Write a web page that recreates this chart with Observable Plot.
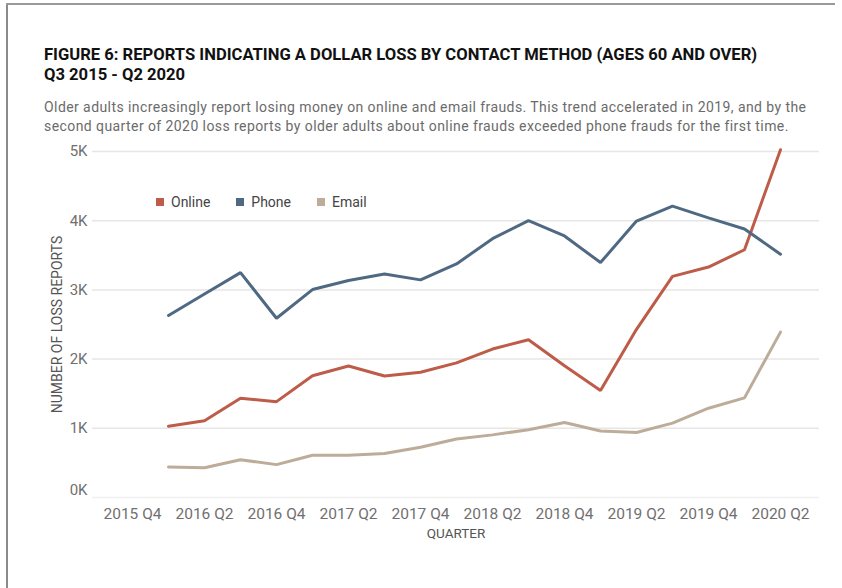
<!DOCTYPE html>
<html>
<head>
<meta charset="utf-8">
<script src="https://cdn.jsdelivr.net/npm/d3@7"></script>
<script src="https://cdn.jsdelivr.net/npm/@observablehq/plot@0.6"></script>
<style>
  html, body { margin: 0; padding: 0; background: #fff; }
  #page { position: relative; width: 842px; height: 588px; overflow: hidden; font-family: Roboto, sans-serif; }
  #bl { position: absolute; left: 6px; top: 3px; width: 2px; height: 590px; background: #8a8a8a; }
  #bt { position: absolute; left: 6px; top: 3px; width: 829px; height: 2px; background: #9a9a9a; }
  #title { position: absolute; left: 44px; top: 45px; font-family: "Liberation Sans Narrow", "Roboto", sans-serif; font-weight: 700; font-size: 16.6px; line-height: 20px; color: #111; white-space: nowrap; }
  #sub { position: absolute; left: 44px; top: 98px; font-family: Roboto, sans-serif; font-size: 14px; letter-spacing: 0.42px; line-height: 19px; color: #6b6b6b; white-space: nowrap; }
  #chart { position: absolute; left: 0; top: 140px; }
  #legend { position: absolute; left: 156px; top: 185px; }
  .lg-swatch { margin-right: 26px !important; font-size: 14px; color: #444; }
</style>
</head>
<body>
<div id="page">
  <div id="bl"></div>
  <div id="bt"></div>
  <div id="title">FIGURE 6: REPORTS INDICATING A DOLLAR LOSS BY CONTACT METHOD (AGES 60 AND OVER)<br>Q3 2015 - Q2 2020</div>
  <div id="sub">Older adults increasingly report losing money on online and email frauds. This trend accelerated in 2019, and by the<br>second quarter of 2020 loss reports by older adults about online frauds exceeded phone frauds for the first time.</div>
  <div id="chart"></div>
  <div id="legend"></div>
</div>
<script>
// x domain (quarters shown on the axis range)
const quarters = ["2015 Q3","2015 Q4","2016 Q1","2016 Q2","2016 Q3","2016 Q4","2017 Q1","2017 Q2","2017 Q3","2017 Q4",
  "2018 Q1","2018 Q2","2018 Q3","2018 Q4","2019 Q1","2019 Q2","2019 Q3","2019 Q4","2020 Q1","2020 Q2","2020 Q3"];
const xTicks = ["2015 Q4","2016 Q2","2016 Q4","2017 Q2","2017 Q4","2018 Q2","2018 Q4","2019 Q2","2019 Q4","2020 Q2"];
const dataQuarters = ["2016 Q1","2016 Q2","2016 Q3","2016 Q4","2017 Q1","2017 Q2","2017 Q3","2017 Q4",
  "2018 Q1","2018 Q2","2018 Q3","2018 Q4","2019 Q1","2019 Q2","2019 Q3","2019 Q4","2020 Q1","2020 Q2"];
const online = [1030,1110,1435,1385,1760,1900,1755,1810,1945,2145,2280,1905,1545,2430,3195,3330,3580,5025];
const phone  = [2630,2940,3250,2590,3005,3135,3230,3145,3375,3740,4000,3780,3395,3995,4210,4040,3880,3515];
const email  = [440,430,545,475,610,610,635,725,845,905,980,1085,960,940,1075,1290,1440,2390];
const yTicks = [0,1000,2000,3000,4000,5000];
const seriesNames = ["Online","Phone","Email"];
const seriesColors = ["#bd5c48","#4f6983","#bcac99"];

const seriesValues = [online, phone, email];
const rows = [];
seriesNames.forEach((s, i) => {
  dataQuarters.forEach((q, j) => rows.push({series: s, quarter: q, value: seriesValues[i][j]}));
});

const fmtK = d => d / 1000 + "K";
const chart = Plot.plot({
  width: 842,
  height: 400,
  marginLeft: 92,
  marginRight: 23,
  marginTop: 11,
  marginBottom: 43,
  style: {fontFamily: "Roboto, sans-serif", background: "transparent", overflow: "visible"},
  x: {type: "point", domain: quarters, padding: 0},
  y: {domain: [0, 5000]},
  color: {domain: seriesNames, range: seriesColors},
  marks: [
    Plot.ruleY(yTicks.filter(d => d > 0), {stroke: "#e6e6e6", strokeWidth: 1.5}),
    Plot.ruleY(yTicks.filter(d => d === 0), {stroke: "#f0f0f0", strokeWidth: 1.5}),
    Plot.axisX(xTicks, {tickSize: 0, tickPadding: 10, fontSize: 15.5, letterSpacing: 0.3, fill: "#707070", label: null}),
    Plot.axisY(yTicks.filter(d => d > 0), {tickSize: 0, tickPadding: 5, fontSize: 15, fill: "#707070", tickFormat: fmtK, label: null}),
    Plot.axisY(yTicks.filter(d => d === 0), {tickSize: 0, tickPadding: 5, fontSize: 15, fill: "#707070", tickFormat: fmtK, label: null, dy: -7}),
    Plot.lineY(rows, {x: "quarter", y: "value", stroke: "series", strokeWidth: 3, strokeLinejoin: "miter", curve: "linear"}),
    Plot.text(["QUARTER"], {frameAnchor: "bottom", dy: 40, fontSize: 13.5, fill: "#555"}),
    Plot.text(["NUMBER OF LOSS REPORTS"], {frameAnchor: "left", textAnchor: "middle", rotate: -90, dx: -35, fontSize: 14, fill: "#555"})
  ]
});
document.getElementById("chart").appendChild(chart);

const legend = Plot.legend({
  color: {domain: seriesNames, range: seriesColors},
  legend: "swatches",
  swatchSize: 8,
  className: "lg",
  style: {fontFamily: "Roboto, sans-serif", fontSize: "14px", color: "#444"}
});
document.getElementById("legend").appendChild(legend);
</script>
</body>
</html>
